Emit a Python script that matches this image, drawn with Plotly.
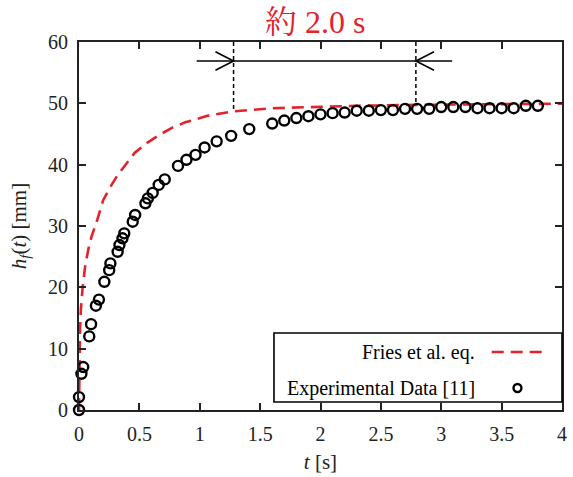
import plotly.graph_objects as go

# Experimental data [11]
exp_t = [0.00, 0.00, 0.02, 0.035, 0.085, 0.10, 0.14, 0.165, 0.21, 0.25, 0.26, 0.32,
         0.335, 0.36, 0.375, 0.445, 0.465, 0.55, 0.57, 0.61, 0.66, 0.71, 0.82, 0.89,
         0.965, 1.04, 1.14, 1.26, 1.41, 1.60, 1.70, 1.80, 1.90, 2.00, 2.10, 2.20,
         2.30, 2.40, 2.50, 2.60, 2.70, 2.80, 2.90, 3.00, 3.10, 3.20, 3.30, 3.40,
         3.50, 3.60, 3.70, 3.80]
exp_h = [0.0, 2.1, 5.9, 7.0, 12.0, 14.0, 17.0, 18.0, 20.9, 22.8, 23.9, 25.8,
         26.9, 28.0, 28.8, 30.7, 31.8, 33.7, 34.5, 35.4, 36.7, 37.6, 39.8, 40.8,
         41.6, 42.8, 43.8, 44.7, 45.8, 46.7, 47.2, 47.6, 47.9, 48.2, 48.4, 48.5,
         48.8, 48.8, 48.9, 48.9, 49.1, 49.1, 49.1, 49.4, 49.4, 49.4, 49.2, 49.2,
         49.2, 49.2, 49.6, 49.6]

# Fries et al. equation
fries_t = [0.0, 0.001, 0.003, 0.008, 0.016, 0.03, 0.05, 0.076, 0.104, 0.145, 0.2, 0.26,
           0.32, 0.39, 0.46, 0.56, 0.66, 0.77, 0.88, 1.07, 1.28, 1.6, 2.0, 2.3, 2.8,
           3.3, 4.0]
fries_h = [0.0, 6.0, 10.3, 13.0, 16.5, 20.0, 23.3, 26.1, 28.3, 30.6, 34.2, 36.4,
           38.3, 40.2, 41.9, 43.5, 44.8, 46.0, 46.9, 48.0, 48.7, 49.2, 49.45, 49.6,
           49.75, 49.85, 49.95]

# Annotation: interval marker
interval_start = 1.28
interval_end = 2.79
arrow_level = 56.9
title_text = "約 2.0 s"

x_ticks = [0, 0.5, 1, 1.5, 2, 2.5, 3, 3.5, 4]
y_ticks = [0, 10, 20, 30, 40, 50, 60]

RED = "#e3222b"
SERIF = "Liberation Serif, Times New Roman, serif"
SERIF_CJK = "Liberation Serif, Noto Serif CJK JP, Noto Sans CJK JP, serif"

fig = go.Figure()

fig.add_trace(go.Scatter(
    x=fries_t, y=fries_h, mode="lines",
    line=dict(color=RED, width=2.6, dash="12px,7px"),
    showlegend=False, cliponaxis=True,
))
fig.add_trace(go.Scatter(
    x=exp_t, y=exp_h, mode="markers",
    marker=dict(symbol="circle-open", size=10, color="black", line=dict(width=2.4, color="black")),
    showlegend=False, cliponaxis=False,
))

shapes = []
# vertical dashed lines
shapes.append(dict(type="line", xref="x", yref="y", x0=interval_start, x1=interval_start,
                   y0=60, y1=48.9, line=dict(color="black", width=1.5, dash="4px,3px")))
shapes.append(dict(type="line", xref="x", yref="y", x0=interval_end, x1=interval_end,
                   y0=60, y1=49.8, line=dict(color="black", width=1.5, dash="4px,3px")))
# horizontal line
shapes.append(dict(type="line", xref="x", yref="y", x0=0.975, x1=3.09,
                   y0=arrow_level, y1=arrow_level, line=dict(color="black", width=1.6)))
# open arrowheads
ax_len = 0.15
ay = 1.5
shapes.append(dict(type="path", xref="x", yref="y",
                   path=f"M {interval_start-ax_len},{arrow_level+ay} L {interval_start},{arrow_level} L {interval_start-ax_len},{arrow_level-ay}",
                   line=dict(color="black", width=1.6)))
shapes.append(dict(type="path", xref="x", yref="y",
                   path=f"M {interval_end+ax_len},{arrow_level+ay} L {interval_end},{arrow_level} L {interval_end+ax_len},{arrow_level-ay}",
                   line=dict(color="black", width=1.6)))

# legend box (manual, symbols on the right)
PX = 488.0
PY = 368.0
def px2paper_x(px):
    return (px - 79) / PX
def px2paper_y(py):
    return (410 - py) / PY

shapes.append(dict(type="rect", xref="paper", yref="paper",
                   x0=px2paper_x(276), x1=px2paper_x(567),
                   y0=px2paper_y(402), y1=px2paper_y(333),
                   line=dict(color="black", width=1.6), fillcolor="white", layer="above"))
shapes.append(dict(type="line", xref="paper", yref="paper",
                   x0=px2paper_x(496), x1=px2paper_x(548),
                   y0=px2paper_y(352), y1=px2paper_y(352),
                   line=dict(color=RED, width=2.6, dash="12px,7px"), layer="above"))
shapes.append(dict(type="circle", xref="paper", yref="paper",
                   x0=px2paper_x(518), x1=px2paper_x(526),
                   y0=px2paper_y(392), y1=px2paper_y(384),
                   line=dict(color="black", width=2.4), layer="above"))

annotations = [
    dict(text=title_text, xref="paper", yref="paper",
         x=px2paper_x(317), y=px2paper_y(22), xanchor="center", yanchor="middle",
         showarrow=False, font=dict(family=SERIF_CJK, size=32, color=RED)),
    dict(text="Fries et al. eq.", xref="paper", yref="paper",
         x=px2paper_x(481), y=px2paper_y(352), xanchor="right", yanchor="middle",
         showarrow=False, font=dict(family=SERIF, size=20, color="black")),
    dict(text="Experimental Data [11]", xref="paper", yref="paper",
         x=px2paper_x(481), y=px2paper_y(388), xanchor="right", yanchor="middle",
         showarrow=False, font=dict(family=SERIF, size=20, color="black")),
]

axis_common = dict(
    showline=True, linecolor="#222", linewidth=2, mirror="ticks",
    ticks="inside", ticklen=7, tickwidth=2, tickcolor="#222",
    showgrid=False, zeroline=False, ticklabelstandoff=5,
    tickfont=dict(family=SERIF, size=20, color="#222"),
)

fig.update_layout(
    width=573, height=477,
    margin=dict(l=79, r=6, t=42, b=67),
    paper_bgcolor="white", plot_bgcolor="white",
    shapes=shapes, annotations=annotations,
    xaxis=dict(range=[0, 4], tickvals=x_ticks, ticktext=[str(v) for v in x_ticks],
               title=dict(text="<i>t</i> [s]", font=dict(family=SERIF, size=21, color="#222"), standoff=10),
               **axis_common),
    yaxis=dict(range=[0, 60], tickvals=y_ticks,
               title=dict(text="<i>h<sub>f</sub></i>(<i>t</i>) [mm]", font=dict(family=SERIF, size=21, color="#222"), standoff=16),
               **axis_common),
)

fig.write_html("out.html")
